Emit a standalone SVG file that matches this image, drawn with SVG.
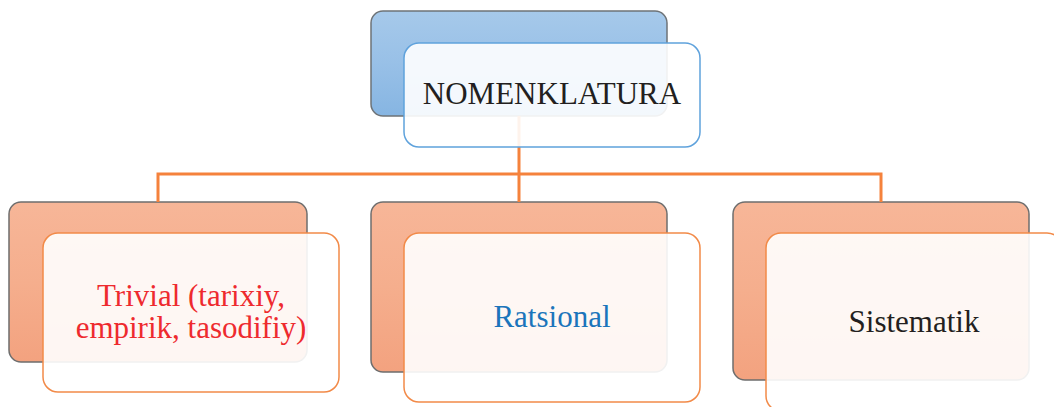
<svg xmlns="http://www.w3.org/2000/svg" width="1054" height="407" viewBox="0 0 1054 407">
<defs>
<linearGradient id="gBlue" x1="0" y1="0" x2="0" y2="1">
<stop offset="0" stop-color="#a6c9ea"/>
<stop offset="0.5" stop-color="#98c0e7"/>
<stop offset="1" stop-color="#86b5e2"/>
</linearGradient>
<linearGradient id="gOrange" x1="0" y1="0" x2="0" y2="1">
<stop offset="0" stop-color="#f7b698"/>
<stop offset="0.5" stop-color="#f5ae8d"/>
<stop offset="1" stop-color="#f3a27f"/>
</linearGradient>
</defs>
<style>
.backB{fill:url(#gBlue);stroke:#6e7377;stroke-width:1.5}
.backO{fill:url(#gOrange);stroke:#6e6e6e;stroke-width:1.5}
.frontB{fill:#ffffff;fill-opacity:0.9;stroke:#5fa2dc;stroke-width:1.5}
.frontO{fill:#ffffff;fill-opacity:0.9;stroke:#f28a48;stroke-width:1.5}
.conn{fill:none;stroke:#f5823c;stroke-width:3}
text{font-family:"Liberation Serif","Times New Roman",serif;font-size:31px;text-anchor:middle}
</style>
<g id="backs">
<rect class="backB" x="371" y="11" width="296" height="105" rx="12"/>
<rect class="backO" x="9" y="202" width="298" height="160" rx="12"/>
<rect class="backO" x="371" y="202" width="296" height="170" rx="12"/>
<rect class="backO" x="733" y="202" width="296" height="178" rx="12"/>
</g>
<g id="connectors">
<path class="conn" d="M519 116 V174 M158 202 V174 H881 V202 M519 174 V202"/>
</g>
<g id="node-nomenklatura">
<rect class="frontB" x="404" y="43" width="296" height="104" rx="15"/>
<text x="552" y="104" fill="#231f20">NOMENKLATURA</text>
</g>
<g id="node-trivial">
<rect class="frontO" x="43" y="233" width="296" height="159" rx="15"/>
<text x="191" y="306" fill="#ee2a2e">Trivial (tarixiy,</text>
<text x="191" y="338" fill="#ee2a2e">empirik, tasodifiy)</text>
</g>
<g id="node-ratsional">
<rect class="frontO" x="404" y="233" width="296" height="169" rx="15"/>
<text x="552" y="327" fill="#1b75bb">Ratsional</text>
</g>
<g id="node-sistematik">
<rect class="frontO" x="766" y="233" width="296" height="178" rx="15"/>
<text x="914" y="332" fill="#231f20">Sistematik</text>
</g>
</svg>
